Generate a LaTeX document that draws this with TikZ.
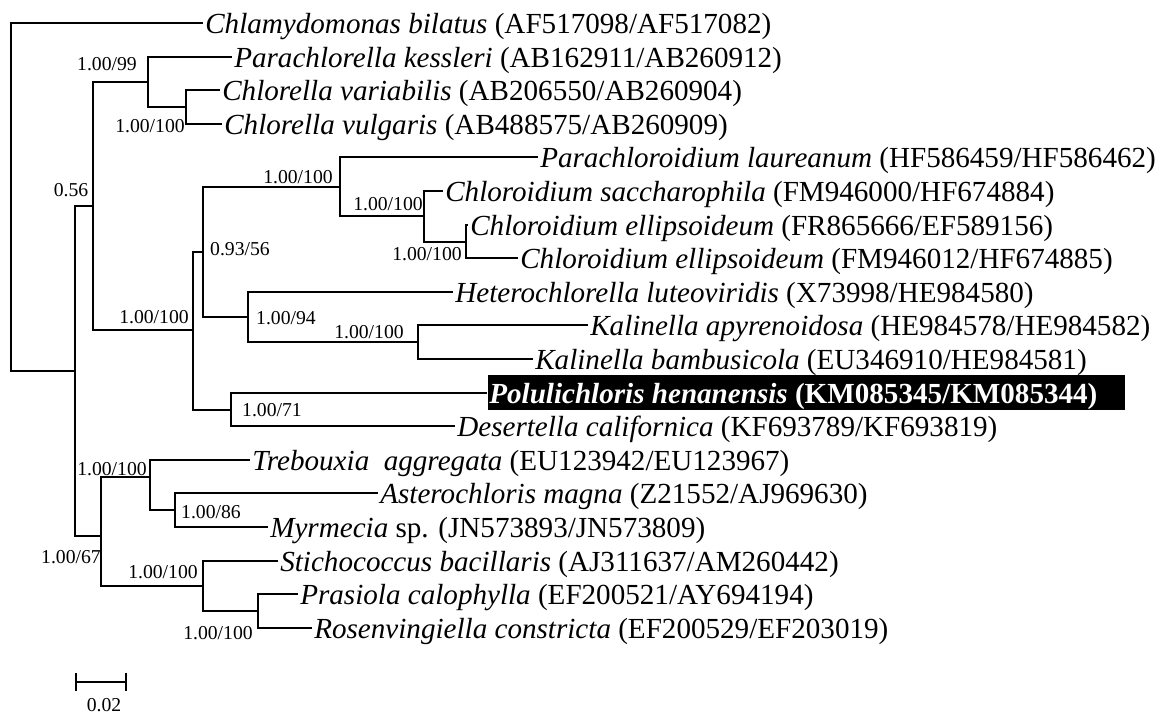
\documentclass[tikz,border=0pt]{standalone}
\usepackage{fontspec}
\setmainfont{Liberation Serif}
\usetikzlibrary{arrows.meta}
\tikzset{
  tree/.style={x=0.025cm,y=-0.025cm,line width=1.3pt},
  leaf/.style={anchor=west,inner xsep=1pt,inner ysep=0pt,text height=14.9pt,text depth=0pt,font=\fontsize{20.7}{23}\selectfont},
  hilite/.style={leaf,fill=black,text=white,inner ysep=5pt,font=\fontsize{20.7}{23}\selectfont\bfseries},
  supp/.style={inner sep=0pt,font=\fontsize{14}{16}\selectfont}
}
\begin{document}
\begin{tikzpicture}[tree]
\useasboundingbox (0,0) rectangle (1168,715);
% taxa, one row every 33.6
\foreach \i/\x/\sp/\acc [evaluate=\i as \y using 33.6*\i-10.6] in {
  1/203/{Chlamydomonas bilatus}/{AF517098/AF517082},
  2/232/{Parachlorella kessleri}/{AB162911/AB260912},
  3/220/{Chlorella variabilis}/{AB206550/AB260904},
  4/222/{Chlorella vulgaris}/{AB488575/AB260909},
  5/538/{Parachloroidium laureanum}/{HF586459/HF586462},
  6/443/{Chloroidium saccharophila}/{FM946000/HF674884},
  7/468/{Chloroidium ellipsoideum}/{FR865666/EF589156},
  8/518/{Chloroidium ellipsoideum}/{FM946012/HF674885},
  9/453/{Heterochlorella luteoviridis}/{X73998/HE984580},
  10/588/{Kalinella apyrenoidosa}/{HE984578/HE984582},
  11/533/{Kalinella bambusicola}/{EU346910/HE984581},
  13/455/{Desertella californica}/{KF693789/KF693819},
  14/250/{Trebouxia~~aggregata}/{EU123942/EU123967},
  15/378/{Asterochloris magna}/{Z21552/AJ969630},
  16/268/{Myrmecia\/ \upshape sp.}/{JN573893/JN573809},
  17/278/{Stichococcus bacillaris}/{AJ311637/AM260442},
  18/298/{Prasiola calophylla}/{EF200521/AY694194},
  19/312/{Rosenvingiella constricta}/{EF200529/EF203019}}
  \node[leaf] (l\i) at (\x,\y) {\textit{\sp} (\acc)};
\node[hilite] (l12) at (487,392.6) {\makebox[451pt][l]{\textit{Polulichloris henanensis} (KM085345/KM085344)}};
% inner nodes
\foreach \n/\x/\y in {r/11/197, a/75/371, b/93/206, c/148/82, d/186/107, e/193/330,
  f/203/252, g/340/187, h/424/216, k/466/242, m/248/317, p/418/342, q/231/410,
  s/101/536, t/150/477, u/175/510, v/203/586, w/258/611}
  \coordinate (\n) at (\x,\y);
\foreach \p/\c in {r/l1, r/a, a/b, a/s, b/c, b/e, c/l2, c/d, d/l3, d/l4,
  e/f, e/q, f/g, f/m, g/l5, g/h, h/l6, h/k, k/l7, k/l8, m/l9, m/p, p/l10, p/l11,
  q/l12, q/l13, s/t, s/v, t/l14, t/u, u/l15, u/l16, v/l17, v/w, w/l18, w/l19}
  \draw (\p) |- (\c);
% support values
\foreach \x/\y/\t [count=\k] in {107/64/{1.00/99}, 150/126/{1.00/100}, 71/190/{0.56},
  154/317/{1.00/100}, 240/249/{0.93/56}, 298/177/{1.00/100}, 388/204/{1.00/100},
  427/254/{1.00/100}, 286/318/{1.00/94}, 369/332/{1.00/100}, 272/410/{1.00/71},
  112/469/{1.00/100}, 211/512/{1.00/86}, 71/557/{1.00/67}, 163/572/{1.00/100},
  218/633/{1.00/100}}
  \node[supp] (bs\k) at (\x,\y) {\t};
% scale bar
\coordinate (sb1) at (75,682);
\coordinate (sb2) at (127,682);
\draw[{Bar[width=13.5pt]}-{Bar[width=13.5pt]}] (sb1) -- (sb2);
\node[supp] (sbl) at (104,705) {0.02};
\end{tikzpicture}
\end{document}
